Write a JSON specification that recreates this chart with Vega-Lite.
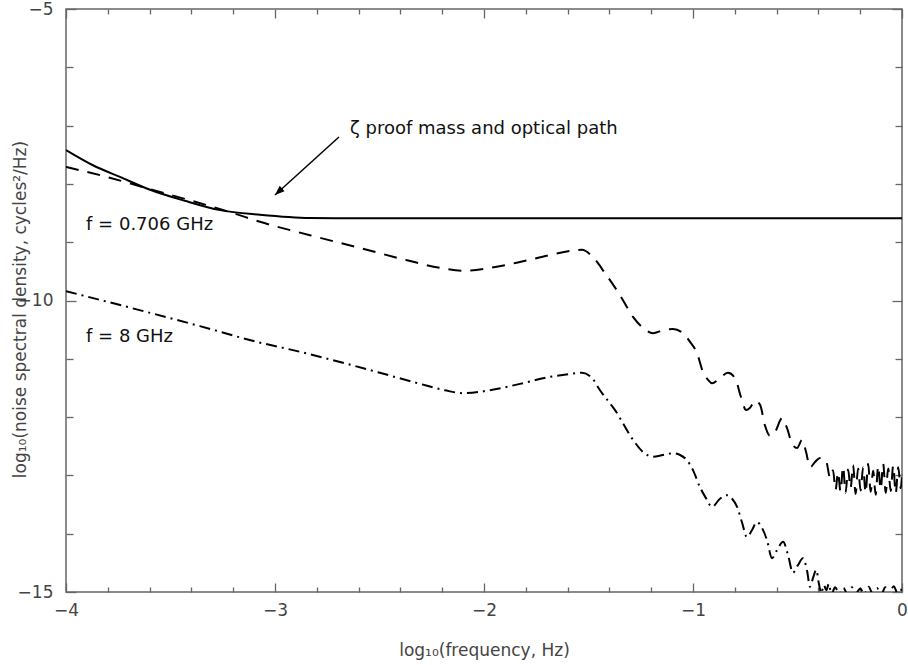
{
  "$schema": "https://vega.github.io/schema/vega-lite/v6.json",
  "width": 836,
  "height": 583,
  "autosize": {"type": "none"},
  "padding": {"left": 66, "top": 9, "right": 6, "bottom": 73},
  "background": "white",
  "config": {
    "view": {"stroke": "#666", "strokeWidth": 1.5},
    "font": "DejaVu Sans",
    "axis": {"grid": false, "domain": false, "tickColor": "#666", "tickWidth": 1.3, "labelFont": "DejaVu Sans", "titleFont": "DejaVu Sans"}
  },
  "resolve": {"axis": {"x": "independent", "y": "independent"}},
  "datasets": {
    "curves": [
      {"series": "solid", "x": -4.0, "y": -7.42},
      {"series": "solid", "x": -3.871, "y": -7.68},
      {"series": "solid", "x": -3.742, "y": -7.88},
      {"series": "solid", "x": -3.598, "y": -8.10},
      {"series": "solid", "x": -3.431, "y": -8.29},
      {"series": "solid", "x": -3.263, "y": -8.45},
      {"series": "solid", "x": -3.072, "y": -8.53},
      {"series": "solid", "x": -2.833, "y": -8.585},
      {"series": "solid", "x": -2.402, "y": -8.59},
      {"series": "solid", "x": -1.5, "y": -8.59},
      {"series": "solid", "x": 0.0, "y": -8.59},

      {"series": "dashed", "x": -4.0, "y": -7.71},
      {"series": "dashed", "x": -3.837, "y": -7.85},
      {"series": "dashed", "x": -3.598, "y": -8.09},
      {"series": "dashed", "x": -3.201, "y": -8.50},
      {"series": "dashed", "x": -3.072, "y": -8.65},
      {"series": "dashed", "x": -2.833, "y": -8.88},
      {"series": "dashed", "x": -2.593, "y": -9.10},
      {"series": "dashed", "x": -2.368, "y": -9.31},
      {"series": "dashed", "x": -2.211, "y": -9.44},
      {"series": "dashed", "x": -2.100, "y": -9.49},
      {"series": "dashed", "x": -1.971, "y": -9.44},
      {"series": "dashed", "x": -1.828, "y": -9.34},
      {"series": "dashed", "x": -1.684, "y": -9.22},
      {"series": "dashed", "x": -1.589, "y": -9.15},
      {"series": "dashed", "x": -1.531, "y": -9.13},
      {"series": "dashed", "x": -1.483, "y": -9.24},
      {"series": "dashed", "x": -1.421, "y": -9.53},
      {"series": "dashed", "x": -1.349, "y": -9.91},
      {"series": "dashed", "x": -1.287, "y": -10.28},
      {"series": "dashed", "x": -1.239, "y": -10.47},
      {"series": "dashed", "x": -1.191, "y": -10.56},
      {"series": "dashed", "x": -1.144, "y": -10.51},
      {"series": "dashed", "x": -1.096, "y": -10.49},
      {"series": "dashed", "x": -1.048, "y": -10.56},
      {"series": "dashed", "x": -1.014, "y": -10.71},
      {"series": "dashed", "x": -0.981, "y": -10.90},
      {"series": "dashed", "x": -0.952, "y": -11.23},
      {"series": "dashed", "x": -0.928, "y": -11.36},
      {"series": "dashed", "x": -0.909, "y": -11.42},
      {"series": "dashed", "x": -0.871, "y": -11.33},
      {"series": "dashed", "x": -0.833, "y": -11.24},
      {"series": "dashed", "x": -0.799, "y": -11.33},
      {"series": "dashed", "x": -0.770, "y": -11.66},
      {"series": "dashed", "x": -0.746, "y": -11.88},
      {"series": "dashed", "x": -0.727, "y": -11.84},
      {"series": "dashed", "x": -0.703, "y": -11.72},
      {"series": "dashed", "x": -0.679, "y": -11.79},
      {"series": "dashed", "x": -0.656, "y": -12.14},
      {"series": "dashed", "x": -0.632, "y": -12.32},
      {"series": "dashed", "x": -0.608, "y": -12.26},
      {"series": "dashed", "x": -0.574, "y": -12.02},
      {"series": "dashed", "x": -0.550, "y": -12.19},
      {"series": "dashed", "x": -0.526, "y": -12.46},
      {"series": "dashed", "x": -0.502, "y": -12.53},
      {"series": "dashed", "x": -0.478, "y": -12.39},
      {"series": "dashed", "x": -0.459, "y": -12.60},
      {"series": "dashed", "x": -0.440, "y": -12.86},
      {"series": "dashed", "x": -0.416, "y": -12.77},
      {"series": "dashed", "x": -0.392, "y": -12.70},
      {"series": "dashed", "x": -0.364, "y": -12.74},
      {"series": "dashed", "x": -0.344, "y": -13.04},
      {"series": "dashed", "x": -0.330, "y": -12.91},
      {"series": "dashed", "x": -0.318, "y": -13.25},
      {"series": "dashed", "x": -0.306, "y": -12.95},
      {"series": "dashed", "x": -0.294, "y": -13.28},
      {"series": "dashed", "x": -0.282, "y": -12.85},
      {"series": "dashed", "x": -0.270, "y": -13.30},
      {"series": "dashed", "x": -0.258, "y": -12.90},
      {"series": "dashed", "x": -0.246, "y": -13.22},
      {"series": "dashed", "x": -0.234, "y": -12.82},
      {"series": "dashed", "x": -0.222, "y": -13.32},
      {"series": "dashed", "x": -0.210, "y": -12.88},
      {"series": "dashed", "x": -0.198, "y": -13.26},
      {"series": "dashed", "x": -0.186, "y": -12.86},
      {"series": "dashed", "x": -0.174, "y": -13.30},
      {"series": "dashed", "x": -0.162, "y": -12.80},
      {"series": "dashed", "x": -0.150, "y": -13.28},
      {"series": "dashed", "x": -0.138, "y": -12.92},
      {"series": "dashed", "x": -0.126, "y": -13.33},
      {"series": "dashed", "x": -0.114, "y": -12.84},
      {"series": "dashed", "x": -0.102, "y": -13.24},
      {"series": "dashed", "x": -0.090, "y": -12.80},
      {"series": "dashed", "x": -0.078, "y": -13.30},
      {"series": "dashed", "x": -0.066, "y": -12.88},
      {"series": "dashed", "x": -0.054, "y": -13.27},
      {"series": "dashed", "x": -0.042, "y": -12.83},
      {"series": "dashed", "x": -0.030, "y": -13.31},
      {"series": "dashed", "x": -0.018, "y": -12.86},
      {"series": "dashed", "x": -0.006, "y": -13.22},
      {"series": "dashed", "x": 0.0, "y": -13.0},

      {"series": "dotdash", "x": -4.0, "y": -9.84},
      {"series": "dotdash", "x": -3.359, "y": -10.44},
      {"series": "dotdash", "x": -3.086, "y": -10.71},
      {"series": "dotdash", "x": -2.880, "y": -10.88},
      {"series": "dotdash", "x": -2.498, "y": -11.24},
      {"series": "dotdash", "x": -2.306, "y": -11.43},
      {"series": "dotdash", "x": -2.187, "y": -11.54},
      {"series": "dotdash", "x": -2.100, "y": -11.59},
      {"series": "dotdash", "x": -1.971, "y": -11.54},
      {"series": "dotdash", "x": -1.828, "y": -11.43},
      {"series": "dotdash", "x": -1.684, "y": -11.31},
      {"series": "dotdash", "x": -1.589, "y": -11.26},
      {"series": "dotdash", "x": -1.531, "y": -11.24},
      {"series": "dotdash", "x": -1.483, "y": -11.33},
      {"series": "dotdash", "x": -1.445, "y": -11.54},
      {"series": "dotdash", "x": -1.373, "y": -11.88},
      {"series": "dotdash", "x": -1.287, "y": -12.39},
      {"series": "dotdash", "x": -1.239, "y": -12.60},
      {"series": "dotdash", "x": -1.191, "y": -12.68},
      {"series": "dotdash", "x": -1.144, "y": -12.65},
      {"series": "dotdash", "x": -1.096, "y": -12.62},
      {"series": "dotdash", "x": -1.062, "y": -12.65},
      {"series": "dotdash", "x": -1.029, "y": -12.74},
      {"series": "dotdash", "x": -1.000, "y": -12.91},
      {"series": "dotdash", "x": -0.967, "y": -13.20},
      {"series": "dotdash", "x": -0.938, "y": -13.39},
      {"series": "dotdash", "x": -0.909, "y": -13.54},
      {"series": "dotdash", "x": -0.871, "y": -13.40},
      {"series": "dotdash", "x": -0.837, "y": -13.34},
      {"series": "dotdash", "x": -0.813, "y": -13.40},
      {"series": "dotdash", "x": -0.789, "y": -13.54},
      {"series": "dotdash", "x": -0.766, "y": -13.80},
      {"series": "dotdash", "x": -0.742, "y": -14.06},
      {"series": "dotdash", "x": -0.718, "y": -13.94},
      {"series": "dotdash", "x": -0.694, "y": -13.80},
      {"series": "dotdash", "x": -0.670, "y": -13.90},
      {"series": "dotdash", "x": -0.646, "y": -14.11},
      {"series": "dotdash", "x": -0.622, "y": -14.42},
      {"series": "dotdash", "x": -0.598, "y": -14.28},
      {"series": "dotdash", "x": -0.569, "y": -14.14},
      {"series": "dotdash", "x": -0.545, "y": -14.37},
      {"series": "dotdash", "x": -0.522, "y": -14.67},
      {"series": "dotdash", "x": -0.498, "y": -14.54},
      {"series": "dotdash", "x": -0.474, "y": -14.42},
      {"series": "dotdash", "x": -0.455, "y": -14.62},
      {"series": "dotdash", "x": -0.440, "y": -14.91},
      {"series": "dotdash", "x": -0.425, "y": -14.75},
      {"series": "dotdash", "x": -0.410, "y": -14.62},
      {"series": "dotdash", "x": -0.398, "y": -14.85},
      {"series": "dotdash", "x": -0.386, "y": -15.02},
      {"series": "dotdash", "x": -0.374, "y": -14.88},
      {"series": "dotdash", "x": -0.362, "y": -14.97},
      {"series": "dotdash", "x": -0.350, "y": -14.86},
      {"series": "dotdash", "x": -0.338, "y": -15.04},
      {"series": "dotdash", "x": -0.320, "y": -14.92},
      {"series": "dotdash", "x": -0.300, "y": -15.03},
      {"series": "dotdash", "x": -0.280, "y": -14.93},
      {"series": "dotdash", "x": -0.260, "y": -15.05},
      {"series": "dotdash", "x": -0.240, "y": -14.92},
      {"series": "dotdash", "x": -0.220, "y": -15.02},
      {"series": "dotdash", "x": -0.200, "y": -14.94},
      {"series": "dotdash", "x": -0.180, "y": -15.04},
      {"series": "dotdash", "x": -0.160, "y": -14.91},
      {"series": "dotdash", "x": -0.140, "y": -15.03},
      {"series": "dotdash", "x": -0.120, "y": -14.93},
      {"series": "dotdash", "x": -0.100, "y": -15.05},
      {"series": "dotdash", "x": -0.080, "y": -14.92},
      {"series": "dotdash", "x": -0.060, "y": -15.02},
      {"series": "dotdash", "x": -0.040, "y": -14.90},
      {"series": "dotdash", "x": -0.020, "y": -15.03},
      {"series": "dotdash", "x": 0.0, "y": -14.94}
    ],
    "notes": [
      {"x": -3.904, "y": -8.70, "label": "f = 0.706 GHz"},
      {"x": -3.904, "y": -10.63, "label": "f = 8 GHz"},
      {"x": -2.641, "y": -7.06, "label": "ζ proof mass and optical path"}
    ],
    "arrow": [
      {"x": -2.694, "y": -7.196, "x2": -3.0, "y2": -8.19}
    ]
  },
  "layer": [
    {
      "data": {"name": "curves"},
      "transform": [{"filter": "datum.series === 'solid'"}],
      "mark": {"type": "line", "color": "black", "strokeWidth": 2, "interpolate": "monotone", "clip": true},
      "encoding": {
        "x": {"field": "x", "type": "quantitative", "scale": {"domain": [-4, 0], "nice": false, "zero": false},
          "axis": {"orient": "bottom", "values": [-4, -3, -2, -1, 0], "tickSize": -9, "labelPadding": 19, "labelFontSize": 17, "labelColor": "#444", "labelFlush": false, "labelOverlap": false,
            "title": "log₁₀(frequency, Hz)", "titleFontSize": 17, "titleFontWeight": "normal", "titleColor": "#444", "titleX": 418, "titleY": 58, "titleAlign": "center", "titleBaseline": "middle"}},
        "y": {"field": "y", "type": "quantitative", "scale": {"domain": [-15, -5], "nice": false, "zero": false},
          "axis": {"orient": "left", "values": [-5, -10, -15], "tickSize": -10, "labelPadding": 23, "labelFontSize": 17, "labelColor": "#444", "labelFlush": false, "labelOverlap": false,
            "title": "log₁₀(noise spectral density, cycles²/Hz)", "titleFontSize": 17, "titleFontWeight": "normal", "titleColor": "#444", "titleX": -46, "titleY": 300, "titleAngle": -90, "titleAlign": "center", "titleBaseline": "middle"}}
      }
    },
    {
      "data": {"name": "curves"},
      "transform": [{"filter": "datum.series === 'dashed'"}],
      "mark": {"type": "line", "color": "black", "strokeWidth": 2, "strokeDash": [13, 9], "interpolate": "monotone", "clip": true},
      "encoding": {
        "x": {"field": "x", "type": "quantitative", "scale": {"domain": [-4, 0], "nice": false, "zero": false},
          "axis": {"orient": "bottom", "values": [-3.8, -3.6, -3.4, -3.2, -2.8, -2.6, -2.4, -2.2, -1.8, -1.6, -1.4, -1.2, -0.8, -0.6, -0.4, -0.2], "tickSize": -5, "labels": false, "title": null}},
        "y": {"field": "y", "type": "quantitative",
          "axis": {"orient": "left", "values": [-6, -7, -8, -9, -11, -12, -13, -14], "tickSize": -7, "labels": false, "title": null}}
      }
    },
    {
      "data": {"name": "curves"},
      "transform": [{"filter": "datum.series === 'dotdash'"}],
      "mark": {"type": "line", "color": "black", "strokeWidth": 2, "strokeDash": [11, 5, 2, 5], "interpolate": "monotone", "clip": true},
      "encoding": {
        "x": {"field": "x", "type": "quantitative",
          "axis": {"orient": "top", "values": [-4, -3, -2, -1, 0], "tickSize": -9, "labels": false, "title": null}},
        "y": {"field": "y", "type": "quantitative",
          "axis": {"orient": "right", "values": [-5, -10, -15], "tickSize": -10, "labels": false, "title": null}}
      }
    },
    {
      "data": {"name": "notes"},
      "mark": {"type": "text", "align": "left", "baseline": "middle", "font": "DejaVu Sans", "fontSize": 18, "color": "#111"},
      "encoding": {
        "x": {"field": "x", "type": "quantitative",
          "axis": {"orient": "top", "values": [-3.8, -3.6, -3.4, -3.2, -2.8, -2.6, -2.4, -2.2, -1.8, -1.6, -1.4, -1.2, -0.8, -0.6, -0.4, -0.2], "tickSize": -5, "labels": false, "title": null}},
        "y": {"field": "y", "type": "quantitative",
          "axis": {"orient": "right", "values": [-6, -7, -8, -9, -11, -12, -13, -14], "tickSize": -7, "labels": false, "title": null}},
        "text": {"field": "label"}
      }
    },
    {
      "data": {"name": "arrow"},
      "mark": {"type": "rule", "color": "black", "strokeWidth": 1.5},
      "encoding": {
        "x": {"field": "x", "type": "quantitative", "axis": null},
        "y": {"field": "y", "type": "quantitative", "axis": null},
        "x2": {"field": "x2"},
        "y2": {"field": "y2"}
      }
    },
    {
      "data": {"name": "arrow"},
      "mark": {"type": "point", "shape": "M-0.6,1.6L0,0L0.6,1.6Z", "filled": true, "color": "black", "opacity": 1, "size": 144, "angle": 227.8},
      "encoding": {
        "x": {"field": "x2", "type": "quantitative", "axis": null},
        "y": {"field": "y2", "type": "quantitative", "axis": null}
      }
    }
  ]
}
